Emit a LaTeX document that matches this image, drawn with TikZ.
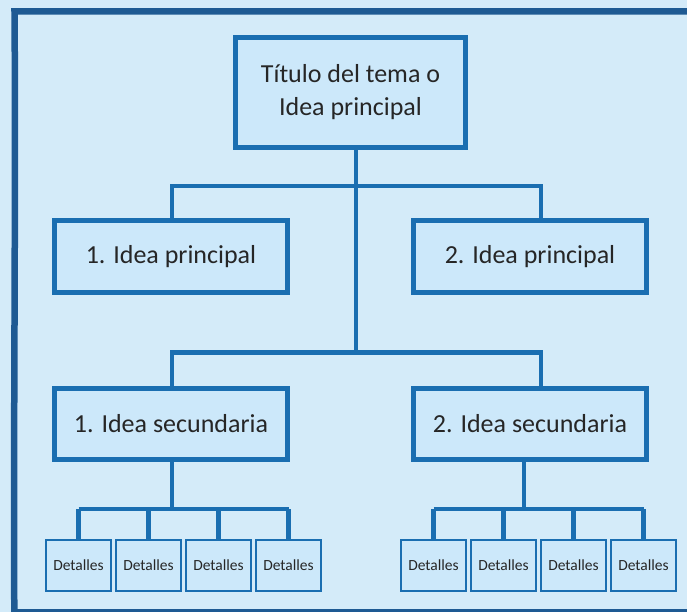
\documentclass[tikz,border=0pt]{standalone}
\usepackage{fontspec}
\setmainfont{Carlito}
\usepackage{tikz}
\usetikzlibrary{positioning}
\definecolor{paper}{HTML}{D4EBF9}
\definecolor{boxfill}{HTML}{CCE8FA}
\definecolor{boxline}{HTML}{1A6EB1}
\definecolor{frameline}{HTML}{1E5A93}
\definecolor{txt}{HTML}{262626}
\tikzset{ideabox/.style={draw=boxline,fill=boxfill,line width=5pt,minimum width=233pt,minimum height=72pt,inner sep=0pt,text=txt,font=\fontsize{26}{33}\selectfont,align=center},detailbox/.style={draw=boxline,fill=boxfill,line width=2.2pt,minimum width=65pt,minimum height=51pt,inner sep=0pt,text=txt,font=\fontsize{15.5}{18}\selectfont},linkline/.style={draw=boxline,line width=4.2pt},framerule/.style={draw=frameline,line width=6.5pt}}

\begin{document}
\begin{tikzpicture}[x=1pt,y=-1pt]
\fill[paper] (0,0) rectangle (687,612);
\useasboundingbox (0,0) rectangle (687,612);
\begin{scope}
\clip (0,0) rectangle (687,612);
\draw[framerule] (14.5,640) .. controls (13,450) and (16,200) .. (14.5,11.5) -- (700,11.5);
\draw[framerule] (14.5,612) -- (700,612);
\end{scope}
\node[ideabox,minimum width=230pt,minimum height=110pt] (title) at (350.5,92.5) {Título del tema o\\Idea principal};
\node[ideabox] (p1) at (171,256.5) {1. Idea principal};
\node[ideabox] (p2) at (530,256.5) {2. Idea principal};
\node[ideabox,minimum height=71pt] (s1) at (171,424) {1. Idea secundaria};
\node[ideabox,minimum height=71pt] (s2) at (530,424) {2. Idea secundaria};
\coordinate (hubtop) at (356,186);
\coordinate (hubmid) at (356,352.5);
\coordinate (hubL) at (172,509);
\coordinate (hubR) at (524,509);
\draw[linkline] (title.south -| hubtop) -- (hubmid);
\draw[linkline] ([xshift=1]p1.north) |- (hubtop) -| ([xshift=11]p2.north);
\draw[linkline] ([xshift=1]s1.south) -- (hubL);
\draw[linkline] ([xshift=1]s1.north) |- (hubmid) -| ([xshift=11]s2.north);
\draw[linkline] ([xshift=-6]s2.south) -- (hubR);
\foreach \i/\x in {1/78.5,2/148.5,3/218.5,4/288.5}{\node[detailbox] (dl\i) at (\x,565.5) {Detalles};\draw[linkline] (dl\i.north) -- (dl\i.north |- hubL);}
\foreach \i/\x in {1/433.5,2/503.5,3/573.5,4/643.5}{\node[detailbox] (dr\i) at (\x,565.5) {Detalles};\draw[linkline] (dr\i.north) -- (dr\i.north |- hubR);}
\draw[linkline] (dl1.north |- hubL) -- (dl4.north |- hubL);
\draw[linkline] (dr1.north |- hubR) -- (dr4.north |- hubR);
\end{tikzpicture}
\end{document}
